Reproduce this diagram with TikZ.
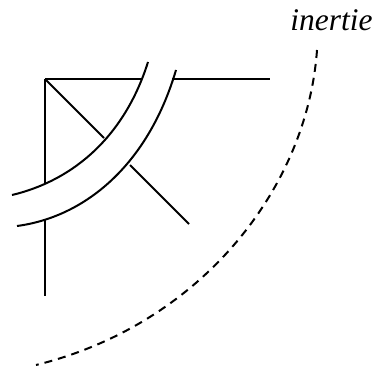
\documentclass[tikz,border=0pt]{standalone}
\usepackage{fontspec}
\setmainfont{Liberation Serif}
\begin{document}
\begin{tikzpicture}[x=0.75pt,y=-0.75pt,line width=1.5pt]
	\useasboundingbox (0,0) rectangle (374,367);
	\coordinate (o) at (45,79);
	\coordinate (t1) at (142,79);
	\coordinate (t2) at (172,79);
	\coordinate (t3) at (270,79);
	\coordinate (l1) at (45,184);
	\coordinate (l2) at (45,219);
	\coordinate (l3) at (45,296);
	\coordinate (d1) at (104,138);
	\coordinate (d2) at (130,165);
	\coordinate (d3) at (189,224);

	\draw (o) -- (t1);
	\draw (t2) -- (t3);
	\draw (o) -- (l1);
	\draw (l2) -- (l3);
	\draw (o) -- (d1);
	\draw (d2) -- (d3);

	% arcs
	\draw (12,195) .. controls (75,180) and (125,135) .. (148,62);
	\draw (17,226) .. controls (85,217) and (148,165) .. (176,70);

	\node[inner sep=0pt, anchor=base] (inertie) at (331.5,31) {\fontsize{23.6pt}{23.6pt}\selectfont\itshape inertie};
	\draw[dash pattern=on 6pt off 4.5pt] (317,50) .. controls (307,190) and (199,325) .. (36,365);
\end{tikzpicture}
\end{document}
